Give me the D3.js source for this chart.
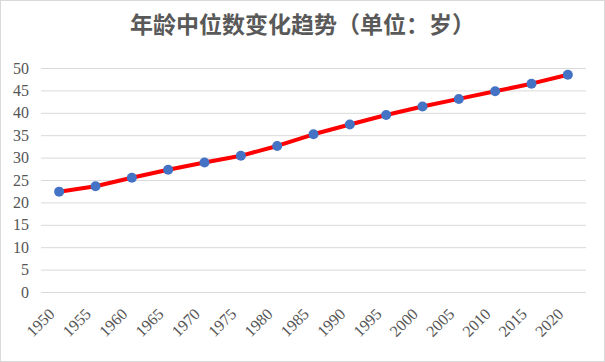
<!DOCTYPE html>
<html>
<head>
<meta charset="utf-8">
<script src="https://cdn.jsdelivr.net/npm/d3@7"></script>
<style>
  body { margin: 0; background: #fff; }
  #chart { width: 605px; height: 362px; }
  .axis text { font-family: "Liberation Serif", "DejaVu Serif", serif; fill: #555; font-size: 16px; }
</style>
</head>
<body>
<div id="chart"></div>
<script>
var years = ["1950","1955","1960","1965","1970","1975","1980","1985","1990","1995","2000","2005","2010","2015","2020"];
var medianAge = [22.4, 23.6, 25.5, 27.3, 28.9, 30.4, 32.6, 35.2, 37.4, 39.5, 41.4, 43.1, 44.8, 46.5, 48.5];
var yTicks = [0, 5, 10, 15, 20, 25, 30, 35, 40, 45, 50];
var title = "年龄中位数变化趋势（单位：岁）";

var width = 605, height = 362;
var margin = {top: 68, right: 19, bottom: 70, left: 41};
var chartWidth = width - margin.left - margin.right;
var chartHeight = height - margin.top - margin.bottom;

var data = years.map((y, i) => ({year: y, value: medianAge[i]}));

var svg = d3.select('#chart').append('svg')
    .attr('width', width)
    .attr('height', height);

// outer border
svg.append('rect')
    .attr('x', 0.5).attr('y', 0.5)
    .attr('width', width - 1).attr('height', height - 1)
    .attr('fill', '#fff')
    .attr('stroke', '#d9d9d9');

svg.append('text')
    .attr('x', width / 2)
    .attr('y', 33)
    .attr('text-anchor', 'middle')
    .attr('font-family', '"Noto Sans CJK SC", sans-serif')
    .attr('font-weight', 'bold')
    .attr('font-size', 23)
    .attr('fill', '#595959')
    .text(title);

var g = svg.append('g')
    .attr('transform', `translate(${margin.left}, ${margin.top})`);

var xScale = d3.scalePoint()
    .domain(years)
    .range([0, chartWidth])
    .padding(0.5);

var yScale = d3.scaleLinear()
    .domain([0, 50])
    .range([chartHeight, 0]);

var yAxis = d3.axisLeft(yScale)
    .tickValues(yTicks)
    .tickSize(-chartWidth)
    .tickPadding(12);

var yg = g.append('g')
    .attr('class', 'y axis')
    .call(yAxis);
yg.select('.domain').remove();
yg.selectAll('.tick line').attr('stroke', '#d9d9d9');

var xAxis = d3.axisBottom(xScale).tickSize(0).tickPadding(0);
var xg = g.append('g')
    .attr('class', 'x axis')
    .attr('transform', `translate(0, ${chartHeight})`)
    .call(xAxis);
xg.select('.domain').remove();
xg.selectAll('.tick text')
    .attr('text-anchor', 'end')
    .attr('dy', '0')
    .attr('transform', 'translate(-4, 23) rotate(-45)');

var line = d3.line()
    .x(d => xScale(d.year))
    .y(d => yScale(d.value));

g.append('path')
    .datum(data)
    .attr('fill', 'none')
    .attr('stroke', '#ff0000')
    .attr('stroke-width', 4)
    .attr('stroke-linejoin', 'round')
    .attr('d', line);

g.selectAll('.dot')
    .data(data)
    .enter()
    .append('circle')
    .attr('class', 'dot')
    .attr('cx', d => xScale(d.year))
    .attr('cy', d => yScale(d.value))
    .attr('r', 5)
    .attr('fill', '#4472c4');
</script>
</body>
</html>
